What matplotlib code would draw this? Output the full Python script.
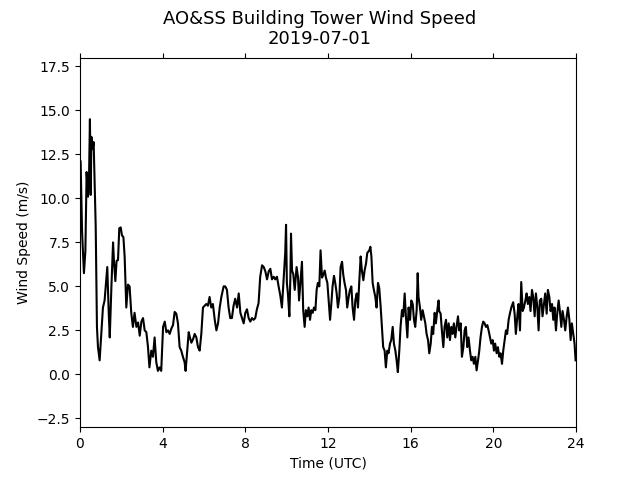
import numpy as np
import matplotlib
matplotlib.use('Agg')
import matplotlib.pyplot as plt

# hours (UTC) and wind speed (m/s)
hours = [0.03, 0.10, 0.19, 0.26, 0.32, 0.39, 0.44, 0.48, 0.52, 0.55, 0.61, 0.66, 0.71, 0.76, 0.82,
         0.87, 0.95, 1.03, 1.11, 1.19, 1.27, 1.32, 1.39, 1.44, 1.52, 1.60, 1.64, 1.71, 1.77, 1.84,
         1.90, 1.97, 2.03, 2.10, 2.16, 2.24, 2.32, 2.40, 2.48, 2.56, 2.64, 2.73, 2.81, 2.89, 2.97,
         3.05, 3.13, 3.21, 3.29, 3.36, 3.45, 3.53, 3.61, 3.69, 3.77, 3.85, 3.93, 4.02, 4.10, 4.18,
         4.26, 4.34, 4.42, 4.50, 4.58, 4.66, 4.74, 4.82, 4.90, 4.98, 5.06, 5.11, 5.19, 5.26, 5.32,
         5.39, 5.47, 5.55, 5.63, 5.71, 5.79, 5.87, 5.95, 6.03, 6.11, 6.19, 6.27, 6.35, 6.43, 6.52,
         6.60, 6.68, 6.76, 6.84, 6.95, 7.03, 7.11, 7.19, 7.27, 7.35, 7.43, 7.51, 7.60, 7.68, 7.76,
         7.84, 7.92, 8.00, 8.08, 8.16, 8.24, 8.32, 8.40, 8.48, 8.56, 8.64, 8.72, 8.81, 8.89, 8.97,
         9.05, 9.13, 9.21, 9.29, 9.37, 9.45, 9.53, 9.61, 9.69, 9.77, 9.85, 9.93, 9.97, 10.01, 10.06,
         10.13, 10.18, 10.21, 10.26, 10.32, 10.39, 10.48, 10.55, 10.60, 10.68, 10.74, 10.80, 10.87, 10.93, 11.00,
         11.06, 11.13, 11.19, 11.26, 11.32, 11.39, 11.45, 11.51, 11.58, 11.64, 11.71, 11.77, 11.84, 11.90, 11.97,
         12.03, 12.10, 12.16, 12.22, 12.29, 12.35, 12.42, 12.48, 12.55, 12.61, 12.68, 12.74, 12.80, 12.87, 12.93,
         13.00, 13.06, 13.13, 13.19, 13.26, 13.32, 13.39, 13.45, 13.51, 13.58, 13.64, 13.71, 13.77, 13.84, 13.90,
         14.00, 14.05, 14.10, 14.16, 14.22, 14.29, 14.35, 14.42, 14.48, 14.55, 14.61, 14.67, 14.74, 14.80, 14.87,
         14.93, 15.00, 15.06, 15.13, 15.19, 15.26, 15.32, 15.38, 15.45, 15.51, 15.58, 15.64, 15.71, 15.77, 15.84,
         15.90, 15.97, 16.03, 16.10, 16.16, 16.22, 16.29, 16.34, 16.38, 16.45, 16.51, 16.58, 16.64, 16.71, 16.77,
         16.84, 16.90, 16.97, 17.03, 17.09, 17.16, 17.22, 17.29, 17.35, 17.38, 17.45, 17.51, 17.58, 17.64, 17.71,
         17.77, 17.84, 17.90, 17.97, 18.03, 18.09, 18.16, 18.22, 18.29, 18.35, 18.42, 18.48, 18.55, 18.61, 18.67,
         18.74, 18.80, 18.87, 18.93, 19.00, 19.06, 19.13, 19.19, 19.26, 19.32, 19.38, 19.45, 19.51, 19.58, 19.64,
         19.71, 19.77, 19.84, 19.90, 19.97, 20.03, 20.09, 20.16, 20.22, 20.29, 20.35, 20.42, 20.48, 20.55, 20.61,
         20.67, 20.74, 20.80, 20.87, 20.96, 21.03, 21.09, 21.16, 21.22, 21.29, 21.35, 21.42, 21.48, 21.55, 21.61,
         21.67, 21.74, 21.80, 21.87, 21.93, 22.00, 22.06, 22.13, 22.19, 22.25, 22.32, 22.38, 22.45, 22.51, 22.58,
         22.64, 22.71, 22.77, 22.84, 22.90, 22.96, 23.03, 23.09, 23.16, 23.22, 23.29, 23.35, 23.42, 23.48, 23.55,
         23.61, 23.68, 23.74, 23.80, 23.87, 23.93, 23.98]

speed = [12.1, 8.1, 5.75, 7.0, 11.5, 10.1, 11.4, 14.5, 10.2, 13.5, 12.8, 13.2, 10.9, 8.4, 2.7,
         1.55, 0.8, 2.3, 3.8, 4.2, 5.4, 6.1, 3.5, 2.1, 5.0, 7.5, 6.5, 5.3, 6.45, 6.5,
         8.3, 8.35, 7.9, 7.8, 6.7, 3.8, 5.1, 5.0, 3.5, 2.7, 3.5, 2.7, 2.95, 2.2, 3.0,
         3.2, 2.5, 2.4, 1.55, 0.4, 1.35, 1.0, 2.1, 0.7, 0.2, 0.4, 0.2, 2.7, 3.0, 2.4,
         2.5, 2.3, 2.6, 2.8, 3.55, 3.45, 2.9, 1.55, 1.35, 1.0, 0.7, 0.2, 1.35, 2.4, 2.1,
         1.8, 2.0, 2.3, 2.1, 1.55, 1.35, 2.3, 3.8, 3.9, 4.0, 3.9, 4.4, 3.8, 4.0, 3.1,
         2.5, 2.9, 3.8, 4.4, 5.0, 5.0, 4.8, 3.8, 3.2, 3.2, 3.9, 4.3, 3.8, 4.6, 3.5,
         3.2, 2.9, 3.5, 3.7, 3.2, 3.0, 3.2, 3.1, 3.2, 3.7, 4.05, 5.55, 6.2, 6.1, 5.85,
         5.4, 5.85, 6.0, 5.4, 5.55, 5.4, 5.55, 5.0, 4.5, 3.8, 5.4, 6.9, 8.5, 5.2, 4.6,
         3.3, 5.55, 8.0, 5.9, 5.7, 4.8, 6.1, 5.5, 4.2, 5.5, 6.4, 3.65, 2.7, 3.65, 3.3,
         3.8, 3.1, 3.65, 3.5, 3.8, 3.65, 4.8, 5.2, 5.0, 7.05, 5.5, 5.65, 5.9, 5.5, 5.2,
         4.2, 3.1, 4.0, 5.0, 5.6, 5.2, 4.6, 3.8, 4.4, 6.1, 6.4, 5.65, 5.2, 4.8, 3.8,
         4.4, 4.8, 5.0, 3.8, 3.1, 4.2, 4.6, 3.8, 5.2, 6.7, 5.9, 5.35, 5.9, 6.3, 6.9,
         7.05, 7.25, 6.7, 5.2, 4.8, 4.4, 3.8, 5.2, 4.9, 3.8, 2.7, 1.55, 1.35, 0.4, 1.35,
         1.2, 1.75, 1.95, 2.7, 1.75, 1.35, 0.8, 0.13, 1.35, 2.7, 3.65, 3.3, 4.6, 3.3, 2.1,
         3.8, 3.1, 4.2, 4.0, 3.1, 2.7, 3.65, 5.75, 4.4, 3.8, 3.1, 3.65, 3.3, 2.9, 2.3,
         1.95, 1.2, 1.75, 2.7, 2.3, 3.5, 2.9, 3.65, 4.2, 3.6, 3.45, 2.5, 1.55, 2.7, 3.1,
         2.1, 2.9, 1.95, 2.7, 2.3, 2.9, 2.1, 2.7, 3.3, 2.5, 2.9, 1.0, 1.55, 2.5, 2.7,
         1.55, 2.1, 1.35, 0.8, 1.0, 0.6, 1.0, 0.23, 0.8, 1.35, 2.1, 2.7, 3.0, 2.9, 2.7,
         2.8, 2.5, 2.1, 1.75, 1.95, 1.35, 1.75, 1.2, 1.55, 1.0, 1.2, 0.6, 1.35, 1.95, 2.5,
         2.3, 3.1, 3.45, 3.8, 4.1, 3.45, 2.3, 3.3, 4.0, 2.5, 5.25, 3.6, 3.8, 4.2, 4.6,
         4.0, 4.4, 3.6, 4.8, 4.4, 3.3, 4.6, 3.8, 2.5, 4.2, 4.3, 3.3, 4.0, 4.6, 3.45,
         4.8, 4.4, 3.6, 4.0, 3.1, 3.8, 2.5, 3.45, 4.2, 3.6, 2.7, 3.6, 3.1, 2.5, 3.3,
         3.8, 3.1, 1.95, 2.9, 2.3, 1.75, 0.8]

xticks = [0, 4, 8, 12, 16, 20, 24]

fig, ax = plt.subplots(figsize=(6.4, 4.8), dpi=100)
ax.plot(hours, speed, color='k', linewidth=1.5)
ax.set_xlim(0, 24)
ax.set_ylim(-3, 18)
ax.set_xticks(xticks)
ax.xaxis.set_ticks_position('both')
ax.set_xlabel('Time (UTC)')
ax.set_ylabel('Wind Speed (m/s)')
fig.suptitle('AO&SS Building Tower Wind Speed\n2019-07-01', fontsize=13)
fig.savefig('out.png')
